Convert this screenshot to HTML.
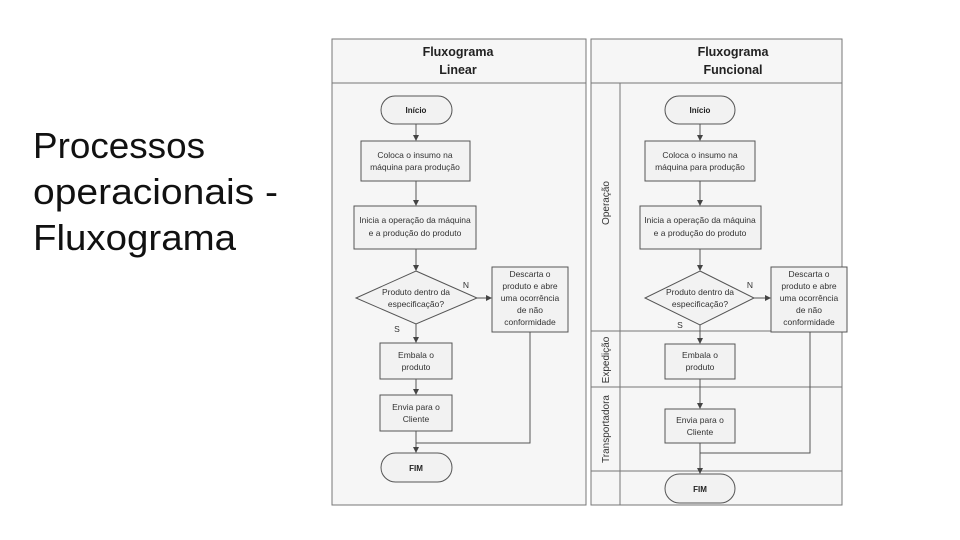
<!DOCTYPE html>
<html><head><meta charset="utf-8"><style>
html,body{margin:0;padding:0;background:#fff;}
svg{display:block;}
text{font-family:"Liberation Sans",sans-serif;}
.t{font-size:8.5px;fill:#333;text-anchor:middle;}
.b{font-size:8px;font-weight:bold;fill:#222;text-anchor:middle;}
.h{font-size:12.5px;font-weight:bold;fill:#222;text-anchor:middle;}
.box{fill:#f2f2f2;stroke:#555;stroke-width:1;}
.ln{stroke:#555;stroke-width:1;fill:none;}
.lane{font-size:10px;fill:#333;text-anchor:middle;}
</style></head><body>
<svg width="960" height="540" viewBox="0 0 960 540" xmlns="http://www.w3.org/2000/svg">
<defs><marker id="a" markerWidth="6" markerHeight="6" refX="5" refY="3" orient="auto"><path d="M0,0 L6,3 L0,6 z" fill="#444"/></marker></defs>
<g font-size="36" fill="#111">
<text x="33" y="158" textLength="172" lengthAdjust="spacingAndGlyphs">Processos</text>
<text x="33" y="204" textLength="245" lengthAdjust="spacingAndGlyphs">operacionais -</text>
<text x="33" y="250" textLength="203" lengthAdjust="spacingAndGlyphs">Fluxograma</text>
</g>
<!-- Left panel -->
<rect x="332" y="39" width="254" height="466" fill="#f6f6f6" stroke="#777"/>
<line x1="332" y1="83" x2="586" y2="83" stroke="#777"/>
<text class="h" x="458" y="56">Fluxograma</text>
<text class="h" x="458" y="74">Linear</text>
<rect x="381" y="96" width="71" height="28" rx="14" class="box"/>
<text class="b" x="416" y="113">Início</text>
<line class="ln" x1="416" y1="124" x2="416" y2="140" marker-end="url(#a)"/>
<rect x="361" y="141" width="109" height="40" class="box"/>
<text class="t" x="415" y="158">Coloca o insumo na</text>
<text class="t" x="415" y="170">máquina para produção</text>
<line class="ln" x1="416" y1="181" x2="416" y2="205" marker-end="url(#a)"/>
<rect x="354" y="206" width="122" height="43" class="box"/>
<text class="t" x="415" y="223">Inicia a operação da máquina</text>
<text class="t" x="415" y="236">e a produção do produto</text>
<line class="ln" x1="416" y1="249" x2="416" y2="270" marker-end="url(#a)"/>
<polygon points="416,271 477,298 416,324 356,298" class="box"/>
<text class="t" x="416" y="295">Produto dentro da</text>
<text class="t" x="416" y="307">especificação?</text>
<line class="ln" x1="477" y1="298" x2="491" y2="298" marker-end="url(#a)"/>
<text class="t" x="466" y="288">N</text>
<text class="t" x="397" y="332">S</text>
<rect x="492" y="267" width="76" height="65" class="box"/>
<text class="t" x="530" y="277">Descarta o</text>
<text class="t" x="530" y="289">produto e abre</text>
<text class="t" x="530" y="301">uma ocorrência</text>
<text class="t" x="530" y="313">de não</text>
<text class="t" x="530" y="325">conformidade</text>
<line class="ln" x1="416" y1="324" x2="416" y2="342" marker-end="url(#a)"/>
<rect x="380" y="343" width="72" height="36" class="box"/>
<text class="t" x="416" y="358">Embala o</text>
<text class="t" x="416" y="370">produto</text>
<line class="ln" x1="416" y1="379" x2="416" y2="394" marker-end="url(#a)"/>
<rect x="380" y="395" width="72" height="36" class="box"/>
<text class="t" x="416" y="410">Envia para o</text>
<text class="t" x="416" y="422">Cliente</text>
<polyline class="ln" points="530,332 530,443 416,443"/>
<line class="ln" x1="416" y1="431" x2="416" y2="452" marker-end="url(#a)"/>
<rect x="381" y="453" width="71" height="29" rx="14.5" class="box"/>
<text class="b" x="416" y="471">FIM</text>
<!-- Right panel -->
<rect x="591" y="39" width="251" height="466" fill="#f6f6f6" stroke="#777"/>
<line x1="591" y1="83" x2="842" y2="83" stroke="#777"/>
<line x1="620" y1="83" x2="620" y2="505" stroke="#777"/>
<line x1="591" y1="331" x2="842" y2="331" stroke="#777"/>
<line x1="591" y1="387" x2="842" y2="387" stroke="#777"/>
<line x1="591" y1="471" x2="842" y2="471" stroke="#777"/>
<text class="h" x="733" y="56">Fluxograma</text>
<text class="h" x="733" y="74">Funcional</text>
<text class="lane" transform="translate(609,203) rotate(-90)">Operação</text>
<text class="lane" transform="translate(609,360) rotate(-90)">Expedição</text>
<text class="lane" transform="translate(609,429) rotate(-90)">Transportadora</text>
<rect x="665" y="96" width="70" height="28" rx="14" class="box"/>
<text class="b" x="700" y="113">Início</text>
<line class="ln" x1="700" y1="124" x2="700" y2="140" marker-end="url(#a)"/>
<rect x="645" y="141" width="110" height="40" class="box"/>
<text class="t" x="700" y="158">Coloca o insumo na</text>
<text class="t" x="700" y="170">máquina para produção</text>
<line class="ln" x1="700" y1="181" x2="700" y2="205" marker-end="url(#a)"/>
<rect x="640" y="206" width="121" height="43" class="box"/>
<text class="t" x="700" y="223">Inicia a operação da máquina</text>
<text class="t" x="700" y="236">e a produção do produto</text>
<line class="ln" x1="700" y1="249" x2="700" y2="270" marker-end="url(#a)"/>
<polygon points="700,271 754,298 700,325 645,298" class="box"/>
<text class="t" x="700" y="295">Produto dentro da</text>
<text class="t" x="700" y="307">especificação?</text>
<line class="ln" x1="754" y1="298" x2="770" y2="298" marker-end="url(#a)"/>
<text class="t" x="750" y="288">N</text>
<text class="t" x="680" y="328">S</text>
<rect x="771" y="267" width="76" height="65" class="box"/>
<text class="t" x="809" y="277">Descarta o</text>
<text class="t" x="809" y="289">produto e abre</text>
<text class="t" x="809" y="301">uma ocorrência</text>
<text class="t" x="809" y="313">de não</text>
<text class="t" x="809" y="325">conformidade</text>
<line class="ln" x1="700" y1="325" x2="700" y2="343" marker-end="url(#a)"/>
<rect x="665" y="344" width="70" height="35" class="box"/>
<text class="t" x="700" y="358">Embala o</text>
<text class="t" x="700" y="370">produto</text>
<line class="ln" x1="700" y1="379" x2="700" y2="408" marker-end="url(#a)"/>
<rect x="665" y="409" width="70" height="34" class="box"/>
<text class="t" x="700" y="423">Envia para o</text>
<text class="t" x="700" y="435">Cliente</text>
<polyline class="ln" points="810,332 810,453 700,453"/>
<line class="ln" x1="700" y1="443" x2="700" y2="473" marker-end="url(#a)"/>
<rect x="665" y="474" width="70" height="29" rx="14.5" class="box"/>
<text class="b" x="700" y="492">FIM</text>
</svg>
</body></html>
